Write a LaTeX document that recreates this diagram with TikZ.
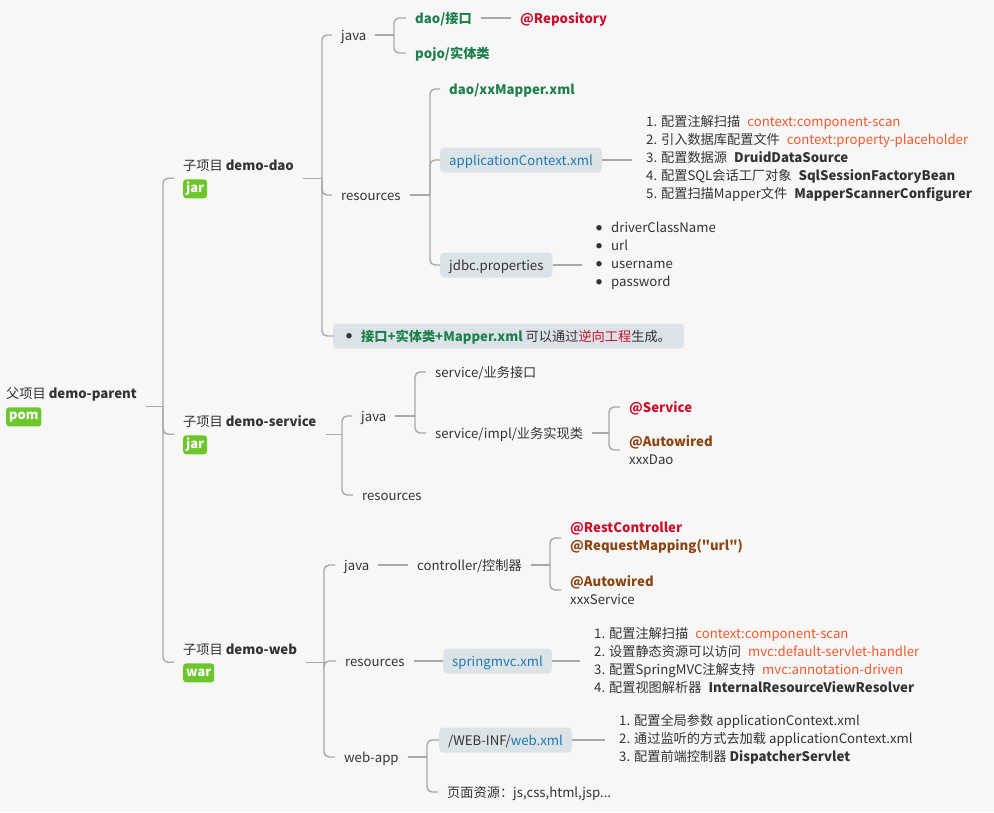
\documentclass[tikz,border=0pt]{standalone}
\usepackage{fontspec}
\setmainfont{Noto Sans CJK SC}[Ligatures=TeXOff]
\usepackage{tikz}
\usetikzlibrary{positioning,fit}
\definecolor{fondo}{HTML}{F7F7F7}
\definecolor{linea}{HTML}{A8A8A8}
\definecolor{texto}{HTML}{333333}
\definecolor{verde}{HTML}{1E7F4C}
\definecolor{rojo}{HTML}{C8102E}
\definecolor{marron}{HTML}{8B4513}
\definecolor{naranja}{HTML}{F25A2C}
\definecolor{azul}{HTML}{1F78B4}
\definecolor{pildo}{HTML}{DCE3E6}
\definecolor{etiqueta}{HTML}{6CC72C}
\newcommand{\anrojo}[1]{\textcolor{rojo}{\textbf{#1}}}
\newcommand{\anmarron}[1]{\textcolor{marron}{\textbf{#1}}}
\newcommand{\codigo}[1]{\hspace{7pt}\textcolor{naranja}{#1}}
\newcommand{\clase}[1]{\hspace{7pt}\textbf{#1}}
\newcommand{\punto}{\raisebox{2.6pt}{\fontsize{6}{6}\selectfont ●}\hspace{9pt}}

\begin{document}
\begin{tikzpicture}[x=1pt,y=-1pt,
  every node/.style={font=\fontsize{13.2}{18}\selectfont,text=texto},
  rama/.style={draw=linea,line width=1.4pt},
  curva/.style={rama,rounded corners=5pt},
  hoja/.style={anchor=west,inner xsep=9pt,inner ysep=0pt,text height=12pt,text depth=2pt},
  verdes/.style={hoja,font=\fontsize{13.2}{18}\selectfont\bfseries,text=verde},
  pildora/.style={hoja,fill=pildo,rounded corners=4pt,minimum height=25pt},
  lista/.style={anchor=west,inner xsep=14pt,inner ysep=0pt,align=left},
  anot/.style={lista,inner xsep=9pt},
  titulo/.style={anchor=west,inner sep=0pt,text height=12pt,text depth=2pt},
  etiq/.style={fill=etiqueta,text=white,font=\fontsize{12.8}{16}\selectfont\bfseries,
               rounded corners=3pt,inner xsep=3pt,inner ysep=0pt,minimum height=19pt},
  grupo/.style={inner xsep=9pt,inner ysep=0pt}
]
\fill[fondo] (0,0) rectangle (994,812);
\useasboundingbox (0,0) rectangle (994,812);

\coordinate (r0) at (163,0);
\coordinate (r1) at (322,0);
\coordinate (r2) at (394,0);
\coordinate (r3) at (430,0);
\coordinate (r4) at (342,0);
\coordinate (r5) at (415,0);
\coordinate (r6) at (609,0);
\coordinate (r7) at (324,0);
\coordinate (r8) at (550,0);
\coordinate (r9) at (427,0);

\node[titulo] (padret) at (6,393) {父项目 \textbf{demo-parent}};
\node[etiq,below=7pt of padret.south west,anchor=north west] (padree) {pom};
\node[grupo,fit=(padret)(padree)] (padre) {};

\node[titulo] (daot) at (183,165) {子项目 \textbf{demo-dao}};
\node[etiq,below=7pt of daot.south west,anchor=north west] (daoe) {jar};
\node[grupo,fit=(daot)(daoe)] (dao) {};

\node[titulo] (svct) at (183,421) {子项目 \textbf{demo-service}};
\node[etiq,below=7pt of svct.south west,anchor=north west] (svce) {jar};
\node[grupo,fit=(svct)(svce)] (svc) {};

\node[titulo] (webt) at (183,649) {子项目 \textbf{demo-web}};
\node[etiq,below=7pt of webt.south west,anchor=north west] (webe) {war};
\node[grupo,fit=(webt)(webe)] (web) {};

\node[hoja] (daojava) at (332,35) {java};
\node[hoja] (daores) at (332,195) {resources};
\node[pildora,inner xsep=13pt] (daonota) at (333,336)
  {\punto\textcolor{verde}{\textbf{接口+实体类+Mapper.xml}} 可以通过\textcolor{rojo}{逆向工程}生成。};
\node[verdes] (daoif) at (406,18) {dao/接口};
\node[verdes] (daopojo) at (406,53) {pojo/实体类};
\node[hoja] (daorepo) at (511,18) {\anrojo{@Repository}};
\node[verdes] (daomapper) at (440,89) {dao/xxMapper.xml};
\node[pildora,text=azul] (daoctx) at (440,160) {applicationContext.xml};
\node[pildora] (daojdbc) at (440,265) {jdbc.properties};
\node[lista] (daoctxl) at (632,159) {1. 配置注解扫描\codigo{context:component-scan}\\
  2. 引入数据库配置文件\codigo{context:property-placeholder}\\
  3. 配置数据源\clase{DruidDataSource}\\
  4. 配置SQL会话工厂对象\clase{SqlSessionFactoryBean}\\
  5. 配置扫描Mapper文件\clase{MapperScannerConfigurer}};
\node[lista] (daojdbcl) at (582,256) {\punto driverClassName\\ \punto url\\ \punto username\\ \punto password};

\node[hoja] (svcjava) at (352,416) {java};
\node[hoja] (svcres) at (353,495) {resources};
\node[hoja] (svcif) at (426,372) {service/业务接口};
\node[hoja] (svcimpl) at (426,433) {service/impl/业务实现类};
\node[hoja] (svcserv) at (620,407) {\anrojo{@Service}};
\node[anot] (svcauto) at (620,450) {\anmarron{@Autowired}\\ xxxDao};

\node[hoja] (webjava) at (335,565) {java};
\node[hoja] (webres) at (336,661) {resources};
\node[hoja] (webapp) at (335,757) {web-app};
\node[hoja] (webctrl) at (408,565) {controller/控制器};
\node[anot] (webrest) at (561,538) {\anrojo{@RestController}\\ \anmarron{@RequestMapping("url")}};
\node[anot] (webauto) at (561,590) {\anmarron{@Autowired}\\ xxxService};
\node[pildora,text=azul] (webmvc) at (443,661) {springmvc.xml};
\node[lista] (webmvcl) at (580,660) {1. 配置注解扫描\codigo{context:component-scan}\\
  2. 设置静态资源可以访问\codigo{mvc:default-servlet-handler}\\
  3. 配置SpringMVC注解支持\codigo{mvc:annotation-driven}\\
  4. 配置视图解析器\clase{InternalResourceViewResolver}};
\node[pildora] (webxml) at (439,740) {/WEB-INF/\textcolor{azul}{web.xml}};
\node[lista] (webxmll) at (605,739) {1. 配置全局参数 applicationContext.xml\\
  2. 通过监听的方式去加载 applicationContext.xml\\
  3. 配置前端控制器 \textbf{DispatcherServlet}};
\node[hoja] (webpag) at (438,792) {页面资源：js,css,html,jsp...};

\draw[rama] (padre.east) -- (padre.east -| r0);
\foreach \h in {dao,svc,web} \draw[curva] (padre.east -| r0) |- (\h.west);

\draw[rama] (dao.east) -- (dao.east -| r1);
\foreach \h in {daojava,daores,daonota} \draw[curva] (dao.east -| r1) |- (\h.west);
\draw[rama] (daojava.east) -- (daojava.east -| r2);
\foreach \h in {daoif,daopojo} \draw[curva] (daojava.east -| r2) |- (\h.west);
\draw[rama] (daoif.east) -- (daorepo.west);
\draw[rama] (daores.east) -- (daores.east -| r3);
\foreach \h in {daomapper,daoctx,daojdbc} \draw[curva] (daores.east -| r3) |- (\h.west);
\draw[rama] (daoctx.east) -- (daoctx.east -| daoctxl.west);
\draw[rama] (daojdbc.east) -- (daojdbc.east -| daojdbcl.west);

\draw[rama] (svc.east) -- (svc.east -| r4);
\foreach \h in {svcjava,svcres} \draw[curva] (svc.east -| r4) |- (\h.west);
\draw[rama] (svcjava.east) -- (svcjava.east -| r5);
\foreach \h in {svcif,svcimpl} \draw[curva] (svcjava.east -| r5) |- (\h.west);
\draw[rama] (svcimpl.east) -- (svcimpl.east -| r6);
\foreach \h in {svcserv,svcauto} \draw[curva] (svcimpl.east -| r6) |- (\h.west);

\draw[rama] (web.east) -- (web.east -| r7);
\foreach \h in {webjava,webres,webapp} \draw[curva] (web.east -| r7) |- (\h.west);
\draw[rama] (webjava.east) -- (webctrl.west);
\draw[rama] (webctrl.east) -- (webctrl.east -| r8);
\foreach \h in {webrest,webauto} \draw[curva] (webctrl.east -| r8) |- (\h.west);
\draw[rama] (webres.east) -- (webmvc.west);
\draw[rama] (webmvc.east) -- (webmvc.east -| webmvcl.west);
\draw[rama] (webapp.east) -- (webapp.east -| r9);
\foreach \h in {webxml,webpag} \draw[curva] (webapp.east -| r9) |- (\h.west);
\draw[rama] (webxml.east) -- (webxml.east -| webxmll.west);
\end{tikzpicture}
\end{document}
